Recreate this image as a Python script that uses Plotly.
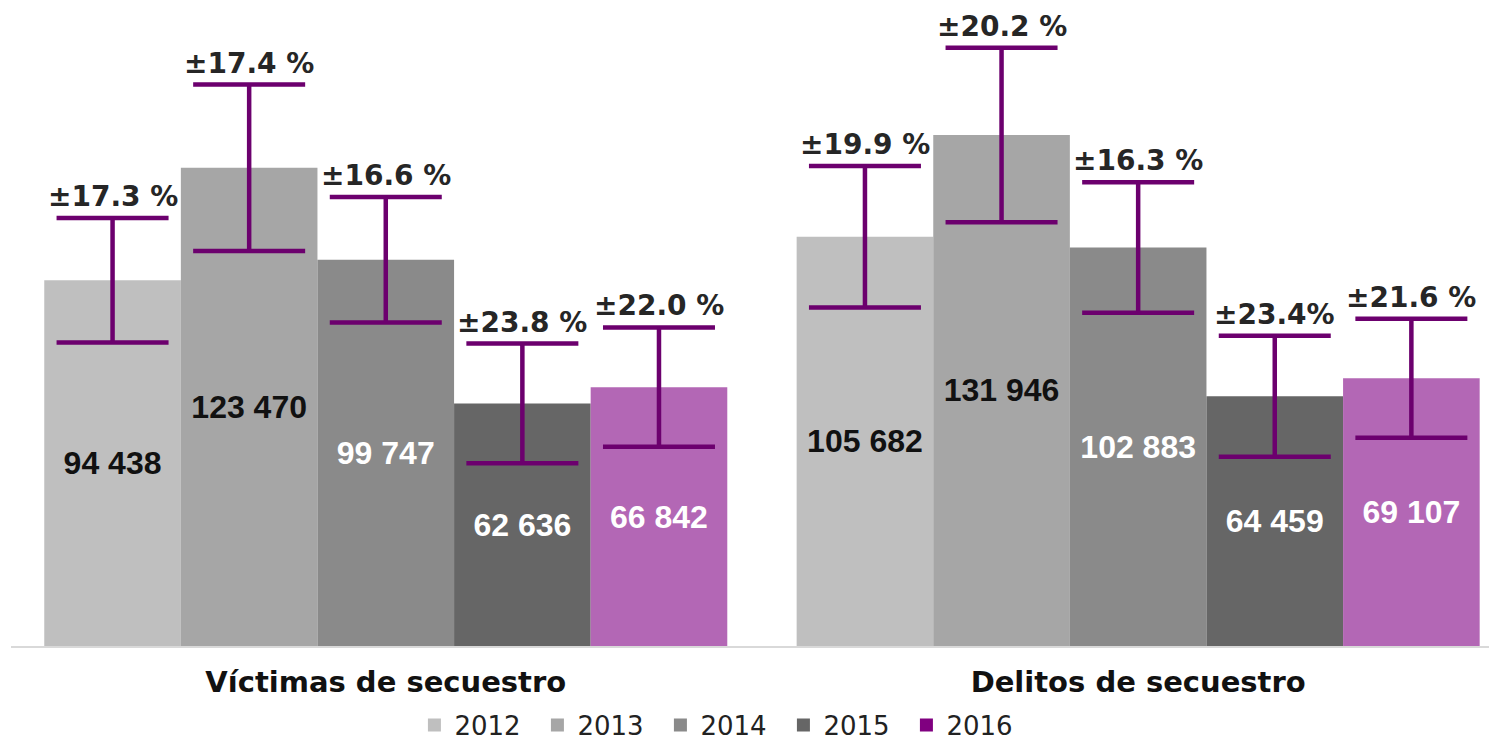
import plotly.graph_objects as go

categories = ["Víctimas de secuestro", "Delitos de secuestro"]
years = ["2012", "2013", "2014", "2015", "2016"]
values = {
    "2012": [94438, 105682],
    "2013": [123470, 131946],
    "2014": [99747, 102883],
    "2015": [62636, 64459],
    "2016": [66842, 69107],
}
value_labels = {
    "2012": ["94 438", "105 682"],
    "2013": ["123 470", "131 946"],
    "2014": ["99 747", "102 883"],
    "2015": ["62 636", "64 459"],
    "2016": ["66 842", "69 107"],
}
# half-length of the drawn error bars
err_margin = {
    "2012": [16060, 18255],
    "2013": [21508, 22515],
    "2014": [16215, 16835],
    "2015": [15440, 15621],
    "2016": [15415, 15363],
}
pct_labels = {
    "2012": ["±17.3 %", "±19.9 %"],
    "2013": ["±17.4 %", "±20.2 %"],
    "2014": ["±16.6 %", "±16.3 %"],
    "2015": ["±23.8 %", "±23.4%"],
    "2016": ["±22.0 %", "±21.6 %"],
}

bar_colors = ["#BFBFBF", "#A6A6A6", "#8A8A8A", "#666666", "#B367B5"]
legend_colors = ["#BFBFBF", "#A6A6A6", "#8A8A8A", "#666666", "#800080"]
text_colors = ["#111111", "#111111", "#FFFFFF", "#FFFFFF", "#FFFFFF"]
err_color = "#6C006E"
BARGAP = 0.0922

fig = go.Figure()
for i, yr in enumerate(years):
    fig.add_trace(go.Bar(
        x=categories, y=values[yr], name=yr,
        marker=dict(color=bar_colors[i], line=dict(width=0)),
        text=value_labels[yr], textposition="inside", insidetextanchor="middle",
        textangle=0, constraintext="none",
        textfont=dict(family="Liberation Sans", size=32, color=text_colors[i], weight="bold"),
        error_y=dict(type="data", array=err_margin[yr], visible=True, color=err_color,
                     thickness=4.5, width=56),
        showlegend=False, hoverinfo="skip",
    ))

for i, yr in enumerate(years):
    fig.add_trace(go.Scatter(
        x=[None], y=[None], mode="markers", name=yr,
        marker=dict(symbol="square", size=13, color=legend_colors[i]),
        showlegend=True,
    ))

annotations = []
for i, yr in enumerate(years):
    for ci in range(len(categories)):
        xpos = ci + (i - 2) * (1 - BARGAP) / len(years)
        ytop = values[yr][ci] + err_margin[yr][ci]
        annotations.append(dict(
            x=xpos, y=ytop, xref="x", yref="y", text=pct_labels[yr][ci],
            showarrow=False, yanchor="bottom", yshift=3,
            font=dict(family="DejaVu Sans", size=28, color="#262626", weight="bold"),
        ))

fig.update_layout(
    width=1489, height=742,
    margin=dict(l=11, r=0, t=0, b=96, autoexpand=False),
    paper_bgcolor="white", plot_bgcolor="white",
    barmode="group", bargap=BARGAP, bargroupgap=0,
    xaxis=dict(type="category", range=[-0.4981, 1.4663], showline=True,
               linecolor="#D9D9D9", linewidth=2, showgrid=False, ticks="",
               tickfont=dict(family="DejaVu Sans", size=29, color="#111111", weight="bold"),
               ticklabelstandoff=9, automargin=False),
    yaxis=dict(range=[0, 166800], visible=False, showgrid=False),
    legend=dict(orientation="h", x=0.481, xanchor="center",
                yref="container", y=0.0229, yanchor="middle",
                font=dict(family="DejaVu Sans", size=26, color="#222222"),
                entrywidth=78, itemwidth=30, traceorder="normal"),
    annotations=annotations,
    showlegend=True,
)

fig.write_html("out.html", config={"displayModeBar": False},
               post_script="document.body.style.margin='0px';")
